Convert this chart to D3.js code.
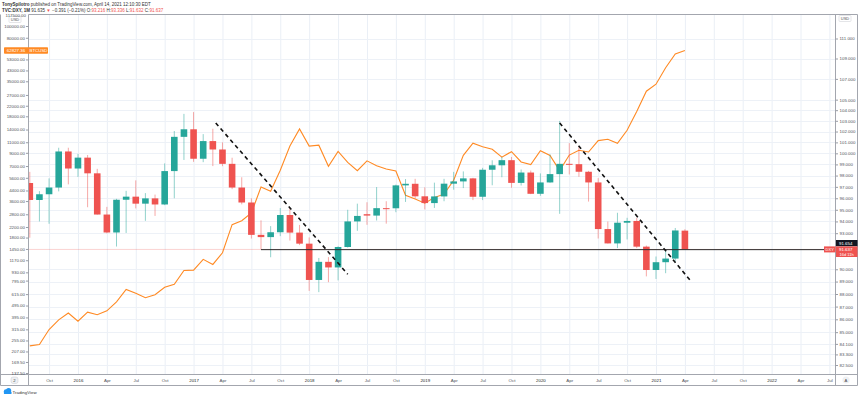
<!DOCTYPE html>
<meta charset="utf-8">
<head>
<style>
  body { margin: 0; background: #fff; }
  svg text { font-family: "Liberation Sans", Arial, sans-serif; }
</style>
</head>
<script src="https://d3js.org/d3.v7.min.js"></script>
<body>
<script>

// monthly DXY candles, Aug 2015 .. Apr 2021 (index 0 = Aug 2015)
var opens  = [97.34,95.85,96.35,96.94,100.17,98.63,99.61,98.20,94.59,93.06,95.87,96.14,95.53,95.99,95.46,98.40,101.51,102.21,99.51,101.12,100.35,99.05,96.94,95.63,92.86,92.67,93.08,94.55,93.05,92.12,89.13,90.61,90.15,91.84,94.00,94.62,94.50,95.14,95.13,97.13,97.27,96.17,95.58,96.16,97.28,97.48,97.75,96.13,98.52,98.92,99.38,97.35,98.27,96.39,97.39,98.13,99.05,99.02,98.34,97.39,93.35,92.14,93.89,94.04,91.87,89.94,90.58,90.88,93.216];
var highs  = [98.33,96.62,97.75,100.51,100.51,99.95,99.85,98.60,95.25,95.95,96.65,97.57,96.45,96.32,99.09,102.05,103.65,103.82,101.76,102.26,101.00,99.60,97.85,96.00,94.09,93.60,95.15,95.15,93.70,92.64,90.93,91.00,91.90,95.00,95.53,95.65,96.98,95.74,97.20,97.69,97.71,96.96,97.37,97.71,98.33,98.37,97.80,98.69,99.37,99.67,99.67,98.54,98.45,98.19,99.91,102.99,100.93,100.56,98.42,97.77,93.99,94.74,94.31,94.30,91.96,91.05,91.60,93.44,93.336];
var lows   = [92.62,94.00,93.80,96.60,97.22,97.88,95.22,94.58,92.99,91.88,93.02,95.12,94.05,94.47,95.40,96.00,99.40,99.23,99.20,98.85,98.84,96.80,95.47,92.55,91.65,90.99,92.75,92.38,92.00,88.25,88.15,88.95,89.10,91.79,93.20,93.71,94.08,93.81,94.79,95.68,95.98,95.03,95.16,95.74,96.75,96.89,95.84,95.84,97.14,97.85,96.92,97.12,96.36,96.21,97.36,94.65,98.10,97.89,95.71,92.55,92.13,91.75,92.47,91.75,89.42,89.21,89.68,90.63,91.632];
var closes = [95.85,96.35,96.94,100.17,98.63,99.61,98.20,94.59,93.06,95.87,96.14,95.53,95.99,95.46,98.40,101.51,102.21,99.51,101.12,100.35,99.05,96.94,95.63,92.86,92.67,93.08,94.55,93.05,92.12,89.13,90.61,90.15,91.84,94.00,94.47,94.50,95.14,95.13,97.13,97.27,96.17,95.58,96.16,97.28,97.48,97.75,96.13,98.52,98.92,99.38,97.35,98.27,96.39,97.39,98.13,99.05,99.02,98.34,97.39,93.35,92.14,93.89,94.04,91.87,89.94,90.58,90.88,93.23,91.637];

// BTCUSD monthly closes, same months, left log axis
var btc = [230,236,314,377,430,368,437,416,448,531,673,624,575,608,701,742,964,970,1190,1080,1348,2300,2480,2875,4700,4338,6468,10233,14156,10221,10397,6973,9240,7494,6404,7730,7033,6625,6371,4017,3742,3457,3854,4105,5350,8574,10817,10085,9630,8293,9199,7569,7194,9350,8544,6412,8624,9455,9138,11350,11655,10779,13805,19700,28990,33100,45240,58800,62827];

// time axis: month index of every quarter label
var xTickIdx = d3.range(2, 84, 3);
var xTickLabels = ["Oct","2016","Apr","Jul","Oct","2017","Apr","Jul","Oct","2018","Apr","Jul","Oct","2019","Apr","Jul","Oct","2020","Apr","Jul","Oct","2021","Apr","Jul","Oct","2022","Apr","Jul"];

var leftTicks  = [100000,80000,53000,43000,35000,27000,22000,18000,14000,11000,9000,7000,5600,4400,3600,2800,2200,1800,1450,1170,930,795,615,495,395,315,255,207,169.5,137.5];
var rightTicks = [111,109,107,105,104,103,102,101,100,99,98,97,96,95,94,93,90,89,88,87,86,85,84.1,83.3,82.5];

// user drawings: [month index, DXY]
var trend1 = [[19.3, 102.8], [33.0, 89.6]];
var trend2 = [[55.0, 102.8], [68.6, 89.05]];
var hline = {from: 24.0, value: 91.62};

var W = 860, H = 398;
var L = 29, R = 835.5, T = 14.5, B = 374.5;

var svg = d3.select("body").append("svg")
    .attr("width", W)
    .attr("height", H);

var x = d3.scaleLinear().domain([0, 68]).range([29.8, 684.9]);
var yR = d3.scaleLog().domain([111, 86]).range([38.5, 319.3]);
var yL = d3.scaleLog().domain([100000, 137.5]).range([26, 373]);

var green = "#26a69a", red = "#ef5350", orange = "#ff8a24";
var fs = 4.4;

svg.append("defs").append("clipPath").attr("id", "plot")
  .append("rect").attr("x", L).attr("y", T).attr("width", R - L).attr("height", B - T);

// grid
var grid = svg.append("g").attr("clip-path", "url(#plot)");
grid.selectAll(".vg").data(xTickIdx).enter().append("line")
    .attr("x1", d => x(d) + 0.5).attr("x2", d => x(d) + 0.5)
    .attr("y1", T).attr("y2", B)
    .attr("stroke", "#eaeff6").attr("stroke-width", 1);
grid.selectAll(".hg").data(rightTicks).enter().append("line")
    .attr("x1", L).attr("x2", R)
    .attr("y1", d => Math.round(yR(d)) + 0.5).attr("y2", d => Math.round(yR(d)) + 0.5)
    .attr("stroke", "#edf1f7").attr("stroke-width", 1);

var plot = svg.append("g").attr("clip-path", "url(#plot)");

// faint price line at last close
plot.append("line")
    .attr("x1", L).attr("x2", R)
    .attr("y1", yR(closes[68])).attr("y2", yR(closes[68]))
    .attr("stroke", red).attr("stroke-opacity", 0.25).attr("stroke-width", 1);

// BTC line
plot.append("path")
    .datum(btc)
    .attr("fill", "none")
    .attr("stroke", orange)
    .attr("stroke-width", 1.1)
    .attr("d", d3.line().x((d, i) => x(i)).y(d => yL(d)));

// candles
var bw = 6.6;
var candles = plot.selectAll(".c").data(opens).enter().append("g");
candles.append("line")
    .attr("x1", (d, i) => x(i)).attr("x2", (d, i) => x(i))
    .attr("y1", (d, i) => yR(highs[i])).attr("y2", (d, i) => yR(lows[i]))
    .attr("stroke", (d, i) => closes[i] >= opens[i] ? green : red)
    .attr("stroke-opacity", 0.5)
    .attr("stroke-width", 1);
candles.append("rect")
    .attr("x", (d, i) => x(i) - bw / 2)
    .attr("width", bw)
    .attr("y", (d, i) => yR(Math.max(opens[i], closes[i])))
    .attr("height", (d, i) => Math.max(1, Math.abs(yR(opens[i]) - yR(closes[i]))))
    .attr("fill", (d, i) => closes[i] >= opens[i] ? green : red);

// horizontal ray
plot.append("line")
    .attr("x1", x(hline.from)).attr("x2", R)
    .attr("y1", yR(hline.value)).attr("y2", yR(hline.value))
    .attr("stroke", "#2a2a2a").attr("stroke-width", 1);

// dashed trend lines
[trend1, trend2].forEach(function(t) {
  plot.append("line")
    .attr("x1", x(t[0][0])).attr("y1", yR(t[0][1]))
    .attr("x2", x(t[1][0])).attr("y2", yR(t[1][1]))
    .attr("stroke", "#111").attr("stroke-width", 1.6)
    .attr("stroke-dasharray", "4,3.4");
});

// frame
var frame = svg.append("g").attr("stroke", "#a3a6ae").attr("stroke-width", 1);
frame.append("line").attr("x1", L - 0.5).attr("x2", L - 0.5).attr("y1", T).attr("y2", 385.5);
frame.append("line").attr("x1", R).attr("x2", R).attr("y1", T).attr("y2", 385.5);
frame.append("line").attr("x1", L - 0.5).attr("x2", 857.5).attr("y1", T).attr("y2", T);
frame.append("line").attr("x1", 0.5).attr("x2", 857.5).attr("y1", B).attr("y2", B);
frame.append("line").attr("x1", 0.5).attr("x2", 857.5).attr("y1", 385.5).attr("y2", 385.5);
frame.append("line").attr("x1", 857.5).attr("x2", 857.5).attr("y1", T).attr("y2", 385.5);
frame.append("line").attr("x1", 0.5).attr("x2", 0.5).attr("y1", T).attr("y2", 385.5);

// axes
function styleAxis(g) {
  g.select(".domain").remove();
  g.selectAll("line").attr("stroke", "#9a9da5");
  g.selectAll("text").attr("font-size", fs).attr("fill", "#50535a").attr("font-family", "Liberation Sans, Arial, sans-serif");
}

svg.append("g")
    .attr("transform", "translate(" + (L - 0.5) + ",0)")
    .call(d3.axisLeft(yL).tickValues(leftTicks).tickSize(2.5).tickPadding(1)
      .tickFormat(d => d3.format(".2f")(d)))
    .call(styleAxis);

svg.append("g")
    .attr("transform", "translate(" + R + ",0)")
    .call(d3.axisRight(yR).tickValues(rightTicks).tickSize(2.5).tickPadding(1.5)
      .tickFormat(d => d3.format(".3f")(d)))
    .call(styleAxis);

svg.append("g")
    .attr("transform", "translate(0," + B + ")")
    .call(d3.axisBottom(x).tickValues(xTickIdx).tickSize(0).tickPadding(4)
      .tickFormat((d, i) => xTickLabels[i]))
    .call(styleAxis)
    .selectAll("text")
      .attr("fill", (d, i) => /^\d{4}$/.test(xTickLabels[i]) ? "#1e1f24" : "#50535a");

// top currency tags
svg.append("rect").attr("x", 9).attr("y", 16.5).attr("width", 12).attr("height", 6)
    .attr("fill", "#fff").attr("stroke", "#c8cad0").attr("stroke-width", 0.5).attr("rx", 1);
svg.append("text").attr("x", 15).attr("y", 21).attr("text-anchor", "middle")
    .attr("font-size", 4).attr("fill", "#4c4e55").text("USD");
svg.append("text").attr("x", 26).attr("y", 16.5).attr("text-anchor", "end")
    .attr("font-size", fs).attr("fill", "#4c4e55").text("117500.00");
svg.append("rect").attr("x", 839).attr("y", 15.5).attr("width", 12).attr("height", 6)
    .attr("fill", "#fff").attr("stroke", "#c8cad0").attr("stroke-width", 0.5).attr("rx", 1);
svg.append("text").attr("x", 845).attr("y", 20).attr("text-anchor", "middle")
    .attr("font-size", 4).attr("fill", "#4c4e55").text("USD");

// BTC last value label
var btcY = yL(btc[68]);
svg.append("rect").attr("x", 4).attr("y", btcY - 3.2).attr("width", 44).attr("height", 6.4)
    .attr("fill", orange).attr("rx", 0.8);
svg.append("text").attr("x", 16).attr("y", btcY + 1.6).attr("text-anchor", "middle")
    .attr("font-size", fs).attr("fill", "#fff").text("62827.36");
svg.append("text").attr("x", 38.5).attr("y", btcY + 1.6).attr("text-anchor", "middle")
    .attr("font-size", fs).attr("fill", "#fff").text("BTCUSD");

// ray label (black) and last price label (red)
svg.append("rect").attr("x", 836).attr("y", 240).attr("width", 21.5).attr("height", 6.3).attr("fill", "#131722");
svg.append("text").attr("x", 839).attr("y", 244.8).attr("font-size", fs).attr("fill", "#fff").text("91.654");
svg.append("rect").attr("x", 824).attr("y", 246.4).attr("width", 11.5).attr("height", 6).attr("fill", red);
svg.append("text").attr("x", 829.7).attr("y", 251).attr("text-anchor", "middle").attr("font-size", 4).attr("fill", "#fff").text("DXY");
svg.append("rect").attr("x", 836).attr("y", 246.4).attr("width", 21.5).attr("height", 10.6).attr("fill", red);
svg.append("text").attr("x", 839).attr("y", 251).attr("font-size", fs).attr("fill", "#fff").text("91.637");
svg.append("text").attr("x", 839.5).attr("y", 255.8).attr("font-size", 4).attr("fill", "#fff").text("16d 11h");

// bottom buttons
svg.append("rect").attr("x", 11).attr("y", 377).attr("width", 7).attr("height", 6.5).attr("rx", 2)
    .attr("fill", "#eef0f3").attr("stroke", "#c8cad0").attr("stroke-width", 0.5);
svg.append("text").attr("x", 14.5).attr("y", 381.9).attr("text-anchor", "middle").attr("font-size", 4.2).attr("fill", "#444").text("2");
svg.append("circle").attr("cx", 846).attr("cy", 380).attr("r", 3.6).attr("fill", "#eef0f3");
svg.append("text").attr("x", 846).attr("y", 381.6).attr("text-anchor", "middle").attr("font-size", 4.2).attr("fill", "#444").text("A");

// header
var h1 = svg.append("text").attr("x", 2).attr("y", 6.3).attr("font-size", 4.5).attr("fill", "#333");
h1.append("tspan").attr("font-weight", "bold").text("TonySpilotro");
h1.append("tspan").text(" published on TradingView.com, April 14, 2021 12:10:30 EDT");
var h2 = svg.append("text").attr("x", 2).attr("y", 11.8).attr("font-size", 4.5).attr("fill", "#333");
h2.append("tspan").attr("font-weight", "bold").text("TVC:DXY, 1M ");
h2.append("tspan").text("91.635 ");
h2.append("tspan").attr("fill", red).text("\u25BC");
h2.append("tspan").text(" \u22120.391 (\u22120.21%) O:");
h2.append("tspan").attr("fill", red).text("93.216");
h2.append("tspan").text(" H:");
h2.append("tspan").attr("fill", red).text("93.336");
h2.append("tspan").text(" L:");
h2.append("tspan").attr("fill", red).text("91.632");
h2.append("tspan").text(" C:");
h2.append("tspan").attr("fill", red).text("91.637");

// TradingView footer logo
var logo = svg.append("g").attr("fill", "#2196f3");
logo.append("circle").attr("cx", 6).attr("cy", 391.5).attr("r", 2.2);
logo.append("circle").attr("cx", 8.6).attr("cy", 390.5).attr("r", 2.6);
logo.append("rect").attr("x", 3.8).attr("y", 391.5).attr("width", 7.8).attr("height", 2.6).attr("rx", 1.2);
svg.append("text").attr("x", 12.5).attr("y", 393.6).attr("font-size", 4.4).attr("fill", "#333").text("TradingView");

</script>
</body>
